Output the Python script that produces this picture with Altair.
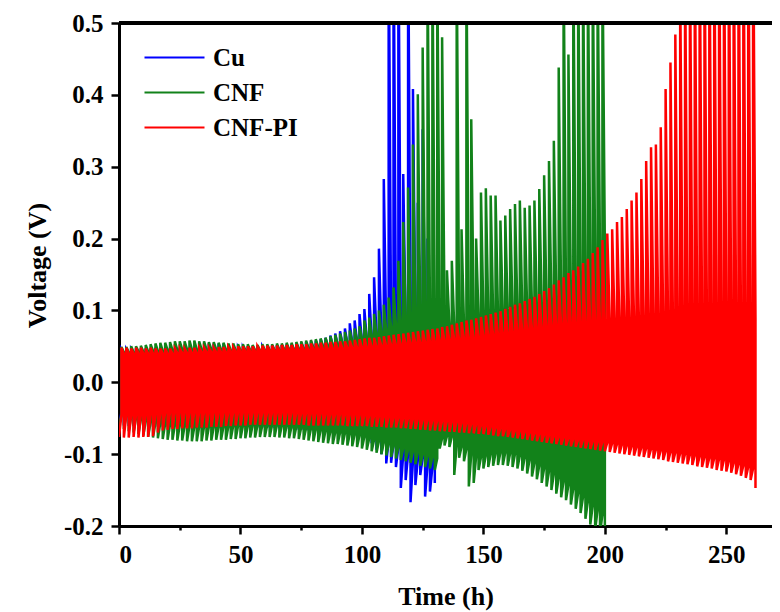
import altair as alt
import pandas as pd

# ---- data (voltages in mV, one value per galvanostatic cycle; 1 h plating + 1 h stripping) ----
HALF_CYCLE_H = 1.0
series_names = ["Cu", "CNF", "CNF-PI"]
series_colors = ["#0000ff", "#12821a", "#ff0000"]

# CNF-PI (red), 131 cycles
red_up_peak = [48,48,47,48,48,47,48,47,47,47, 47,47,47,47,48,48,48,48,48,48,
               49,49,49,49,50,50,50,50,50,51, 51,51,51,52,52,52,53,53,53,54,
               54,55,55,56,56,57,57,58,59,60, 61,62,62,63,64,65,66,67,68,69,
               70,71,72,73,74,75,77,78,80,82, 84,86,87,89,91,93,95,97,99,102,
               105,108,110,113,116,119,123,127,131,136, 142,146,152,156,161,166,172,180,188,198,
               207,213,223,230,241,253,264,283,308,327, 331,355,408,445,484,560,600,620,640,650,
               650,660,660,670,670,680,680,690,690,700,700]
red_up_end = [40,40,40,40,40,40,40,40,40,40, 40,41,41,41,41,41,42,42,42,42,
              42,42,43,43,43,43,43,43,44,44, 44,44,44,44,45,45,45,45,45,46,
              46,46,46,47,47,47,48,48,48,49, 49,50,50,51,51,52,52,53,54,54,
              55,55,56,57,57,58,58,59,60,60, 61,62,62,63,64,65,66,67,68,69,
              70,71,72,73,74,75,76,77,78,79, 80,80,81,81,82,82,83,83,84,84,
              85,85,86,86,86,87,87,87,88,88, 88,89,89,89,90,90,90,90,91,91,
              91,91,92,92,92,92,92,92,91,90,89]
red_dn_peak = [-76,-77,-77,-76,-77,-76,-76,-75,-70,-67, -66,-65,-65,-64,-64,-64,-63,-63,-63,-62,
               -62,-62,-61,-61,-60,-60,-60,-59,-59,-59, -59,-59,-59,-59,-59,-59,-59,-59,-59,-60,
               -60,-60,-60,-60,-60,-60,-60,-61,-61,-61, -61,-61,-62,-62,-62,-63,-63,-63,-64,-64,
               -65,-65,-66,-66,-67,-67,-68,-68,-69,-69, -70,-70,-71,-71,-72,-72,-73,-74,-75,-75,
               -76,-77,-78,-79,-80,-81,-82,-83,-84,-85, -86,-87,-88,-89,-90,-91,-92,-93,-94,-95,
               -96,-97,-98,-99,-100,-101,-102,-103,-104,-105, -106,-107,-108,-110,-111,-112,-113,-114,-115,-117,
               -118,-119,-120,-122,-123,-124,-126,-128,-130,-133,-136, -147]
red_dn_end = [-45,-45,-45,-45,-45,-45,-44,-44,-43,-42, -42,-42,-42,-42,-42,-42,-42,-42,-42,-42,
              -42,-42,-42,-42,-42,-42,-42,-42,-42,-42, -42,-42,-42,-42,-42,-42,-43,-43,-43,-43,
              -43,-43,-44,-44,-44,-44,-45,-45,-45,-45, -46,-46,-47,-47,-48,-48,-49,-49,-50,-50,
              -51,-51,-52,-52,-53,-53,-54,-54,-55,-55, -56,-57,-58,-59,-60,-61,-62,-63,-64,-65,
              -66,-67,-68,-69,-70,-71,-72,-73,-74,-75, -76,-77,-78,-79,-80,-80,-81,-82,-83,-83,
              -84,-85,-86,-87,-88,-89,-90,-91,-92,-93, -94,-95,-96,-97,-98,-99,-100,-101,-102,-103,
              -104,-105,-106,-107,-108,-110,-112,-114,-116,-118,-120]

# CNF (green), 100 cycles
green_up_peak = [49,49,50,50,51,52,53,54,55,55, 56,57,57,57,58,58,57,57,56,56,
                 55,55,54,54,53,53,53,52,52,53, 53,53,54,54,55,55,56,57,58,59,
                 60,61,62,64,66,68,70,72,75,78, 86,90,95,100,108,118,132,169,223,271,
                 331,401,466,600,600,600,480,156,169,600, 213,600,366,200,264,270,260,260,225,232,
                 241,248,253,243,246,253,269,288,308,336, 438,600,456,600,600,600,600,600,600,600]
green_up_end = [42,42,42,43,43,43,44,44,44,45, 45,45,46,46,46,46,46,46,46,46,
                46,46,45,45,45,45,45,45,45,45, 45,45,45,46,46,46,47,47,48,48,
                49,50,51,52,53,54,55,57,59,61, 63,65,67,70,73,76,80,84,88,92,
                95,98,100,100,100,100,95,80,78,85, 82,88,90,92,94,95,96,97,98,99,
                100,101,102,103,104,105,106,108,110,112, 116,120,125,130,138,146,155,165,175,185]
green_dn_peak = [-62,-65,-68,-70,-72,-74,-76,-77,-78,-79, -80,-80,-81,-81,-82,-82,-82,-82,-81,-81,
                 -80,-80,-80,-79,-79,-78,-78,-77,-77,-76, -76,-76,-76,-77,-77,-78,-78,-79,-80,-81,
                 -82,-83,-84,-85,-86,-86,-87,-88,-89,-90, -92,-94,-96,-98,-100,-102,-104,-106,-108,-110,
                 -112,-114,-116,-118,-120,-122,-92,-88,-90,-129, -105,-110,-145,-140,-122,-120,-118,-116,-115,-115,
                 -116,-118,-120,-123,-127,-131,-135,-140,-145,-150, -155,-160,-164,-170,-176,-182,-190,-198,-205,-210,
                 -215]
green_dn_end = [-45,-46,-48,-50,-52,-54,-55,-56,-57,-58, -59,-60,-60,-61,-61,-62,-62,-62,-62,-62,
                -62,-62,-62,-61,-61,-61,-61,-60,-60,-60, -60,-60,-60,-61,-61,-62,-62,-63,-64,-65,
                -66,-67,-68,-69,-70,-70,-71,-72,-73,-74, -76,-78,-80,-82,-84,-86,-88,-90,-92,-94,
                -96,-98,-100,-102,-104,-106,-78,-75,-76,-88, -90,-93,-100,-104,-104,-102,-100,-99,-98,-98,
                -99,-100,-102,-105,-108,-112,-116,-120,-124,-128, -133,-138,-143,-148,-154,-160,-166,-172,-178,-184]

# Cu (blue), 65 cycles
blue_up_peak = [46,46,46,47,47,47,47,48,48,48, 48,48,48,48,48,48,48,48,48,48,
                48,48,49,49,49,49,50,50,50,50, 51,51,52,52,53,53,54,55,56,57,
                58,60,62,65,68,71, 75,82,86,95,102,123,146,186,283,
                650,650,650,290,650,408,250,352,200,110]
blue_up_end = [40,40,40,40,40,40,40,40,40,40, 40,40,41,41,41,41,41,41,42,42,
               42,42,42,42,43,43,43,43,43,44, 44,44,45,45,45,46,46,47,47,48,
               48,49,50,51,52,53, 54,55,56,58,60,62,64,66,68,
               70,72,74,76,78,80,82,84,86,88]
blue_dn_peak = [-60,-60,-61,-61,-61,-61,-62,-62,-62,-62, -62,-62,-62,-62,-62,-62,-62,-62,-62,-62,
                -62,-62,-62,-62,-62,-62,-62,-63,-63,-63, -63,-63,-64,-64,-64,-65,-65,-66,-66,-67,
                -67,-68,-68,-69,-69,-70, -71,-72,-73,-74,-75,-76,-85,-94,-100,
                -113,-112,-118,-147,-136,-167,-143,-129,-159,-152, -140]
blue_dn_end = [-42,-42,-42,-42,-42,-42,-42,-42,-42,-42, -42,-42,-42,-42,-42,-42,-42,-42,-42,-42,
               -43,-43,-43,-43,-43,-43,-43,-43,-43,-43, -44,-44,-45,-45,-46,-46,-47,-47,-48,-48,
               -49,-50,-51,-52,-53,-54, -55,-56,-57,-58,-60,-62,-66,-70,-74,
               -80,-85,-90,-100,-100,-110,-108,-105,-115,-118]

x_ticks = [0, 25, 50, 75, 100, 125, 150, 175, 200, 225, 250]
y_ticks = [-0.2, -0.15, -0.1, -0.05, 0.0, 0.05, 0.1, 0.15, 0.2, 0.25, 0.3, 0.35, 0.4, 0.45, 0.5]


def build(name, up_peak, up_end, dn_peak, dn_end):
    n = len(up_peak)
    assert len(up_end) == n and len(dn_end) == n and len(dn_peak) == n + 1, name
    rows = []
    for k in range(n):
        t0 = 2 * k * HALF_CYCLE_H
        pts = [(t0, dn_peak[k]), (t0 + HALF_CYCLE_H, dn_end[k]),
               (t0 + HALF_CYCLE_H, up_peak[k]), (t0 + 2 * HALF_CYCLE_H, up_end[k])]
        rows.extend(pts)
    rows.append((2 * n * HALF_CYCLE_H, dn_peak[n]))
    return pd.DataFrame({"time": [r[0] for r in rows],
                         "voltage": [r[1] / 1000.0 for r in rows],
                         "series": name,
                         "idx": range(len(rows))})


df = pd.concat([build("Cu", blue_up_peak, blue_up_end, blue_dn_peak, blue_dn_end),
                build("CNF", green_up_peak, green_up_end, green_dn_peak, green_dn_end),
                build("CNF-PI", red_up_peak, red_up_end, red_dn_peak, red_dn_end)],
               ignore_index=True)

FONT = "Liberation Serif"
major_x = "datum.value % 50 == 0"
major_y = "abs(datum.value * 10 - round(datum.value * 10)) < 0.001"

x_enc = alt.X("time:Q",
              scale=alt.Scale(domain=[0, 268.8], nice=False, zero=False),
              axis=alt.Axis(values=x_ticks, title="Time (h)",
                            labelExpr=f"{major_x} ? datum.label : ''",
                            tickSize={"condition": {"test": f"!({major_x})", "value": 4}, "value": 8},
                            labelPadding=8, titlePadding=16))
y_enc = alt.Y("voltage:Q",
              scale=alt.Scale(domain=[-0.2, 0.5], nice=False, zero=False),
              axis=alt.Axis(values=y_ticks, title="Voltage (V)",
                            labelExpr=f"{major_y} ? ((datum.value < -0.0001 ? '-' : '') + format(abs(datum.value), '.1f')) : ''",
                            tickSize={"condition": {"test": f"!({major_y})", "value": 4}, "value": 8},
                            labelPadding=8, titlePadding=13, titleY=242))
color_enc = alt.Color("series:N",
                      scale=alt.Scale(domain=series_names, range=series_colors),
                      legend=alt.Legend(title=None, orient="none", legendX=24, legendY=22,
                                        symbolType="stroke", symbolSize=3600, symbolStrokeWidth=2.2,
                                        clipHeight=25,
                                        labelFont=FONT, labelFontWeight="bold", labelFontSize=25,
                                        labelOffset=7, rowPadding=9, labelColor="black"))

base = alt.Chart(df)
layers = []
for name in series_names:
    layers.append(base.transform_filter(alt.datum.series == name)
                  .mark_line(strokeWidth=2.5, clip=True)
                  .encode(x=x_enc, y=y_enc, color=color_enc, order="idx:Q"))

top_rule = alt.Chart(df).mark_rule(color="black", strokeWidth=3).encode(y=alt.datum(0.5))

chart = (alt.layer(*layers, top_rule)
         .properties(width=653, height=503,
                     padding={"left": 111, "top": 15, "right": 0, "bottom": 86},
                     autosize=alt.AutoSizeParams(type="none"))
         .configure_view(strokeWidth=0)
         .configure_axis(grid=False, domainColor="black", domainWidth=3,
                         tickColor="black", tickWidth=2.5,
                         labelFont=FONT, labelFontWeight="bold", labelFontSize=25, labelColor="black",
                         titleFont=FONT, titleFontWeight="bold", titleFontSize=26, titleColor="black"))

chart.save("out.html", embed_options={"renderer": "svg", "actions": False})
